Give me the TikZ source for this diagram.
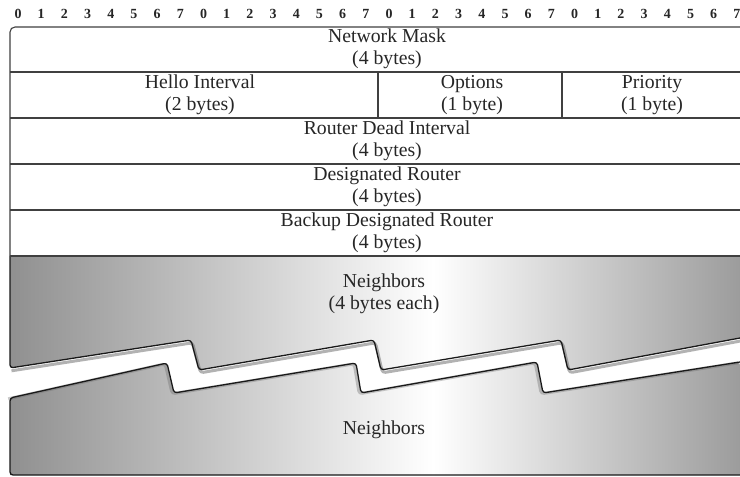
\documentclass[tikz,border=0pt]{standalone}
\usepackage{fontspec}
\setmainfont{Liberation Serif}
\definecolor{nbL}{HTML}{909090}
\definecolor{nbR}{HTML}{9C9C9C}
\pgfdeclarehorizontalshading{nbr}{100bp}{color(0bp)=(nbL); color(25bp)=(nbL); color(54bp)=(white); color(75bp)=(nbR); color(100bp)=(nbR)}
\begin{document}
\begin{tikzpicture}[x=1bp,y=-1bp,
  lbl/.style={font=\fontsize{19.8}{22}\selectfont, align=center, inner sep=0pt, text=black!85},
  digit/.style={font=\fontsize{14}{15}\selectfont\bfseries, inner sep=0pt, text=black!85},
  rule/.style={draw=black!75, line width=1.1bp},
  edgeline/.style={draw=black!90, line width=1.3bp, line join=round, rounded corners=3bp},
  shadowline/.style={draw=black!60, line width=3bp, opacity=0.5, line join=round, rounded corners=3bp}]
\useasboundingbox (0,0) rectangle (740,477);
\fill[white] (0,0) rectangle (740,477);

% bit numbers
\foreach \i in {0,...,31} {
  \pgfmathtruncatemacro\d{mod(\i,8)}
  \node[digit] (d\i) at ({18+23.19*\i},14) {\d};
}

% neighbour pieces
\shade[shading=nbr, rounded corners=3bp] (10,475) -- (10,398) -- (167,363) -- (174,393) -- (356,363) -- (361,393) -- (537,362) -- (543,393) -- (740,362) [sharp corners] -- (740,475) -- cycle;
\shade[shading=nbr, rounded corners=3bp] (740,338) -- (568,370) -- (561,340) -- (381,370) -- (374,340) -- (199,370) -- (191,340) -- (10,368) [sharp corners] -- (10,256) -- (740,256) -- cycle;

% shadows
\draw[shadowline, shift={(1.5,2.8)}] (10,368) -- (191,340) -- (199,370) -- (374,340) -- (381,370) -- (561,340) -- (568,370) -- (740,338);
\draw[shadowline, opacity=0.35, shift={(-1.8,0.8)}] (10,398) -- (167,363) -- (174,393) -- (356,363) -- (361,393) -- (537,362) -- (543,393) -- (740,362);

% edges of pieces
\draw[edgeline] (10,256) -- (10,368) -- (191,340) -- (199,370) -- (374,340) -- (381,370) -- (561,340) -- (568,370) -- (740,338);
\draw[edgeline] (740,475) -- (10,475) -- (10,398) -- (167,363) -- (174,393) -- (356,363) -- (361,393) -- (537,362) -- (543,393) -- (740,362);

% table frame
\draw[rule, rounded corners=5bp] (740,27) -- (10,27) -- (10,256);
\foreach \y in {72,118,164,210,256} \draw[rule] (10,\y) -- (740,\y);
\draw[rule] (378,72) -- (378,118);
\draw[rule] (562,72) -- (562,118);

% labels
\node[lbl] (nm) at (387,49) {Network Mask\\(4 bytes)};
\node[lbl] (hi) at (200,95) {Hello Interval\\(2 bytes)};
\node[lbl] (op) at (472,95) {Options\\(1 byte)};
\node[lbl] (pr) at (652,95) {Priority\\(1 byte)};
\node[lbl] (rd) at (387,141) {Router Dead Interval\\(4 bytes)};
\node[lbl] (dr) at (387,187) {Designated Router\\(4 bytes)};
\node[lbl] (bd) at (387,233) {Backup Designated Router\\(4 bytes)};
\node[lbl] (nb1) at (384,294) {Neighbors\\(4 bytes each)};
\node[lbl] (nb2) at (384,430) {Neighbors};
\end{tikzpicture}
\end{document}
